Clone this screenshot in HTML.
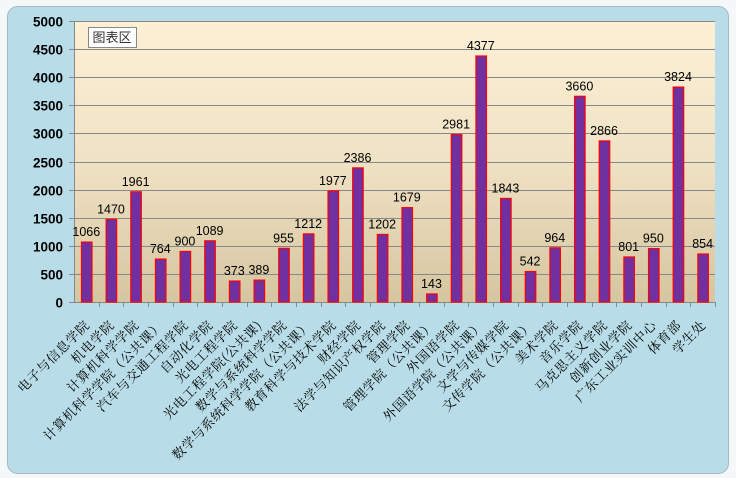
<!DOCTYPE html>
<html><head><meta charset="utf-8"><style>
body{margin:0;background:#fff;}
svg{display:block;}
</style></head><body>
<svg width="736" height="478" xmlns="http://www.w3.org/2000/svg">
<defs>
<linearGradient id="bg" x1="0" y1="0" x2="0" y2="1">
<stop offset="0" stop-color="#fdf0d5"/>
<stop offset="0.5" stop-color="#f0e2c4"/>
<stop offset="1" stop-color="#d5c5a0"/>
</linearGradient>
</defs>
<rect x="0" y="0" width="736" height="478" fill="#f4f8f8"/>
<rect x="7.5" y="6.5" width="721" height="467" rx="10" fill="#b8dde8" stroke="#a8b8c0" stroke-width="1"/>
<rect x="74" y="21" width="641" height="281" fill="url(#bg)"/>
<g id="grid" stroke="#888" stroke-width="1"></g>
<g id="bars"></g>
<g id="txt"></g>
<rect x="88.5" y="27.5" width="48" height="20" fill="#fff" stroke="#888"/>
<text x="112" y="42" font-family="Liberation Sans,'Noto Sans CJK SC',sans-serif" font-size="13" text-anchor="middle" fill="#333">图表区</text>
<script>
var ns="http://www.w3.org/2000/svg";
function el(t,a,p,tx){var e=document.createElementNS(ns,t);for(var k in a)e.setAttribute(k,a[k]);if(tx!==undefined)e.textContent=tx;document.getElementById(p).appendChild(e);return e;}
var L=74,R=715,B=302,T=21,s=(B-T)/5000;
for(var i=0;i<=10;i++){var y=Math.round(B-i*500*s)+0.5;
 if(i>0)el('line',{x1:L,x2:R,y1:y,y2:y},'grid');
 el('line',{x1:L-5,x2:L,y1:y,y2:y},'grid');
 el('text',{x:63,y:y+5,'text-anchor':'end','font-family':'Liberation Sans,sans-serif','font-size':'13.5','font-weight':'bold',fill:'#000'},'txt',String(i*500));}
el('line',{x1:L+0.5,x2:L+0.5,y1:T,y2:B},'grid');
el('line',{x1:L,x2:R,y1:B+0.5,y2:B+0.5},'grid');
var v=[1066,1470,1961,764,900,1089,373,389,955,1212,1977,2386,1202,1679,143,2981,4377,1843,542,964,3660,2866,801,950,3824,854];
var c=["电子与信息学院","机电学院","计算机科学学院","计算机科学学院（公共课）","汽车与交通工程学院","自动化学院","光电工程学院","光电工程学院(公共课)","数学与系统科学学院","数学与系统科学学院（公共课）","教育科学与技术学院","财经学院","法学与知识产权学院","管理学院","管理学院（公共课）","外国语学院","外国语学院（公共课）","文学与传媒学院","文传学院（公共课）","美术学院","音乐学院","马克思主义学院","创新创业学院","广东工业实训中心","体育部","学生处"];
var w=(R-L)/26;
for(var i=0;i<26;i++){var x0=L+i*w, cx=x0+w/2, h=v[i]*s;
 el('rect',{x:x0+7.5,y:B-h,width:10.5,height:h,fill:'#7030a0',stroke:'#ff0000','stroke-width':'1.2'},'bars');
 var tx=Math.round(x0+w);el('line',{x1:tx+0.5,x2:tx+0.5,y1:B,y2:B+5},'grid');
 el('text',{x:cx,y:B-h-6,'text-anchor':'middle','font-family':'Liberation Sans,sans-serif','font-size':'12.5',fill:'#000'},'txt',String(v[i]));
 el('text',{x:0,y:0,'text-anchor':'end','letter-spacing':'0.6','font-family':"'Noto Serif CJK SC','Liberation Serif',serif",'font-size':'13',fill:'#000',transform:'translate('+(cx+4)+',326) rotate(-45)'},'txt',c[i]);}
</script>
</svg>
</body></html>
